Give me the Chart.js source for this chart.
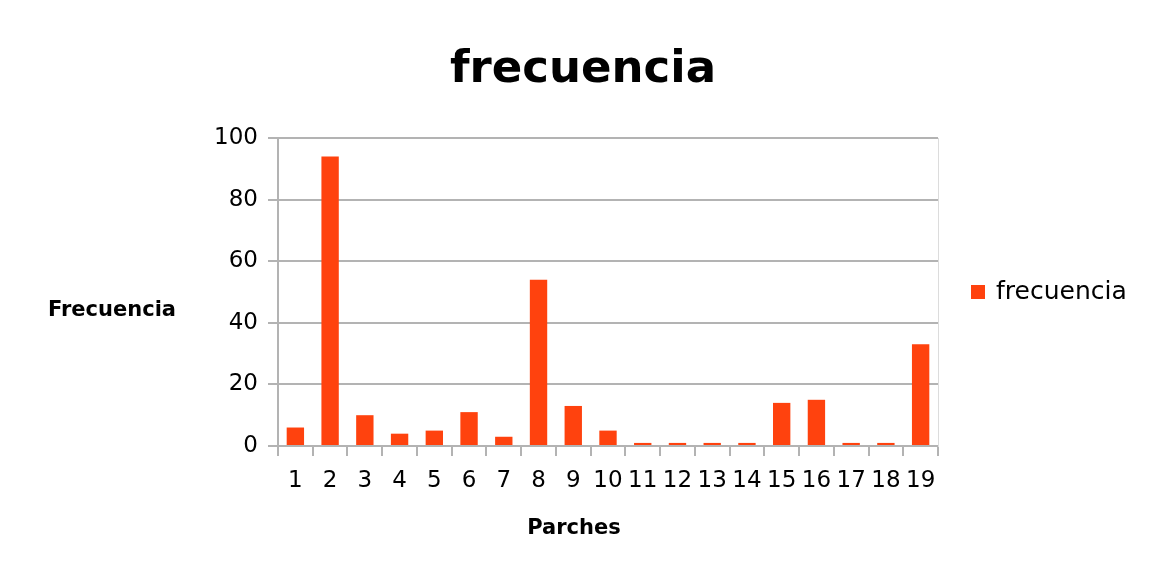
<!DOCTYPE html>
<html>
<head>
<meta charset="utf-8">
<script src="https://cdn.jsdelivr.net/npm/chart.js@4"></script>
<style>
html,body{margin:0;padding:0;background:#fff;}
#wrap{width:1155px;height:571px;position:relative;}
</style>
</head>
<body>
<div id="wrap"><canvas id="c" width="1155" height="571"></canvas></div>
<script>
const categories = ["1","2","3","4","5","6","7","8","9","10","11","12","13","14","15","16","17","18","19"];
const frecuencia = [6,94,10,4,5,11,3,54,13,5,1,1,1,1,14,15,1,1,33];
const yTicks = [0,20,40,60,80,100];
const chartTitle = "frecuencia";
const seriesName = "frecuencia";
const yTitle = "Frecuencia";
const xTitle = "Parches";

const FONT = "'DejaVu Sans', sans-serif";
const BAR = "#ff420e";
const GRID = "#b3b3b3";

const extras = {
  id: 'extras',
  afterDraw(chart) {
    const ctx = chart.ctx;
    const a = chart.chartArea;
    ctx.save();
    ctx.fillStyle = '#000';
    // horizontal y-axis title
    ctx.font = "bold 21px " + FONT;
    ctx.textAlign = 'left';
    ctx.textBaseline = 'alphabetic';
    ctx.fillText(yTitle, 48, 316);
    // x-axis title
    ctx.textAlign = 'center';
    ctx.fillText(xTitle, 574, 534);
    // legend
    const cy = (a.top + a.bottom) / 2;
    ctx.fillStyle = BAR;
    ctx.fillRect(971, cy - 7, 14, 14);
    ctx.fillStyle = '#000';
    ctx.font = "25px " + FONT;
    ctx.textAlign = 'left';
    ctx.textBaseline = 'middle';
    ctx.fillText(seriesName, 996, cy);
    ctx.restore();
  }
};

new Chart(document.getElementById('c'), {
  type: 'bar',
  data: {
    labels: categories,
    datasets: [{
      label: seriesName,
      data: frecuencia,
      backgroundColor: BAR,
      borderWidth: 0,
      barPercentage: 0.5,
      categoryPercentage: 1.0
    }]
  },
  options: {
    responsive: false,
    animation: false,
    devicePixelRatio: 1,
    layout: { padding: { left: 11, right: 0, top: 0, bottom: 0 } },
    plugins: {
      legend: { display: false },
      tooltip: { enabled: false },
      title: {
        display: true,
        text: chartTitle,
        color: '#000',
        font: { family: FONT, size: 45, weight: 'bold' },
        padding: { top: 43, bottom: 41 }
      }
    },
    scales: {
      x: {
        offset: true,
        grid: { display: true, drawOnChartArea: false, drawTicks: true, tickLength: 10, color: GRID, lineWidth: 2, offset: true },
        border: { display: true, color: GRID, width: 2 },
        ticks: { color: '#000', font: { family: FONT, size: 23 }, padding: 11, maxRotation: 0, autoSkip: false },
        afterFit(s) { s.height = 125; }
      },
      y: {
        min: 0, max: 100,
        afterBuildTicks(s) { s.ticks = yTicks.map(v => ({ value: v })); },
        grid: { color: GRID, lineWidth: 2, tickLength: 10, drawTicks: true },
        border: { display: true, color: GRID, width: 2 },
        ticks: { color: '#000', font: { family: FONT, size: 23 }, padding: 10 },
        afterFit(s) { s.width = 267; }
      },
      y2: {
        position: 'right',
        min: 0, max: 100,
        grid: { display: false, drawTicks: false },
        border: { display: true, color: '#dcdcdc', width: 1 },
        ticks: { display: false },
        afterFit(s) { s.width = 217; }
      }
    }
  },
  plugins: [extras]
});
</script>
</body>
</html>
